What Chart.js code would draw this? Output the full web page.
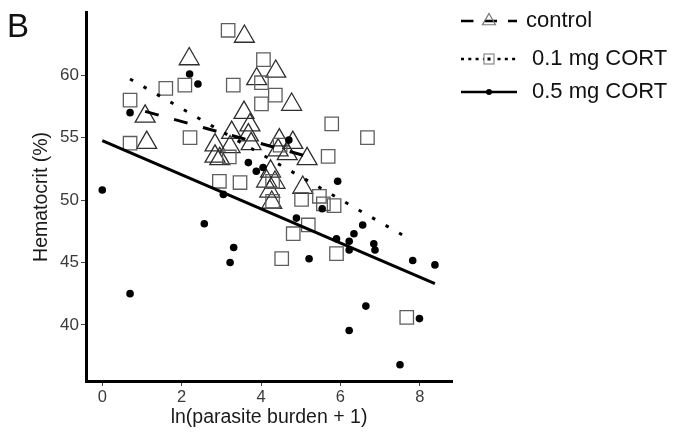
<!DOCTYPE html>
<html>
<head>
<meta charset="utf-8">
<script src="https://cdn.jsdelivr.net/npm/chart.js"></script>
<style>
  html, body { margin: 0; padding: 0; background: #fff; }
  #wrap { width: 684px; height: 435px; }
</style>
</head>
<body>
<div id="wrap"><canvas id="hct" width="684" height="435"></canvas></div>
<script>
// hematocrit against ln(parasite burden + 1), one group per treatment
var groupNames = ['control', '0.1 mg CORT', '0.5 mg CORT'];

var controlX = [1.08, 1.12, 2.19, 3.58, 3.89, 4.37, 4.77, 3.57, 3.72, 3.68, 3.75, 3.26, 2.84, 3.22,
                2.84, 2.96, 4.46, 4.80, 4.43, 4.66, 5.16, 4.24, 4.14, 4.35, 4.22, 4.27, 5.05];
var controlY = [56.7, 54.6, 61.3, 63.1, 59.7, 60.3, 57.65, 57.0, 56.0, 55.2, 54.5, 55.4, 54.4, 54.25,
                53.5, 53.3, 54.8, 54.6, 54.0, 53.7, 53.3, 52.3, 51.5, 51.4, 50.7, 49.8, 51.0];

var lowX = [0.70, 0.70, 1.60, 2.08, 2.21, 3.17, 3.30, 4.06, 4.01, 4.01, 4.36, 5.78, 5.69, 6.68, 2.95,
            3.47, 3.20, 4.48, 4.29, 4.29, 5.02, 5.47, 5.57, 5.84, 5.19, 4.81, 4.52, 5.90, 7.67];
var lowY = [58.0, 54.55, 58.95, 59.2, 55.0, 63.6, 59.2, 61.25, 59.4, 57.7, 58.4, 56.1, 53.5, 55.0, 51.5,
            51.4, 53.45, 54.4, 51.5, 49.9, 50.05, 50.3, 49.7, 49.55, 48.0, 47.3, 45.3, 45.7, 40.6];

var highX = [0.00, 0.70, 0.70, 2.20, 2.41, 2.57, 3.05, 3.31, 3.22, 3.68, 3.88, 4.05, 4.70, 4.89, 5.54,
             5.93, 5.90, 6.22, 6.22, 6.34, 6.56, 6.84, 6.87, 5.21, 7.82, 8.38, 6.64, 7.99, 6.22, 7.50];
var highY = [50.8, 42.5, 57.0, 60.1, 59.3, 48.1, 50.45, 46.2, 45.0, 53.0, 52.3, 52.6, 54.8, 48.55, 49.3,
             51.5, 46.9, 46.7, 46.0, 47.3, 48.0, 46.5, 46.0, 45.3, 45.15, 44.8, 41.5, 40.5, 39.55, 36.8];

// regression lines, end points
var controlFitX = [1.08, 5.16], controlFitY = [57.1, 53.5];
var lowFitX = [0.70, 7.67], lowFitY = [59.7, 47.0];
var highFitX = [0.00, 8.38], highFitY = [54.75, 43.3];

var xTicks = [0, 2, 4, 6, 8];
var yTicks = [40, 45, 50, 55, 60];

var FONT = '"Liberation Sans", Arial, Helvetica, sans-serif';

function pts(xs, ys) {
    return xs.map(function(x, i) { return {x: x, y: ys[i]}; });
}

function fitLine(xs, ys, dash) {
    return {
        data: pts(xs, ys),
        showLine: true,
        borderColor: '#000',
        borderWidth: 3,
        borderDash: dash,
        borderCapStyle: 'butt',
        pointRadius: 0,
        fill: false,
        order: 0
    };
}

// legend keys on the right plus the panel letter
var sideLegend = {
    id: 'sideLegend',
    afterDraw: function(chart) {
        var ctx = chart.ctx;
        ctx.save();
        ctx.fillStyle = '#111';
        ctx.font = '33px ' + FONT;
        ctx.textBaseline = 'alphabetic';
        ctx.fillText('B', 7, 37);

        var rows = [
            {y: 21, tx: 526, dash: [12.5, 11], mark: 'tri'},
            {y: 59, tx: 532, dash: [3, 4.3], mark: 'rect'},
            {y: 92, tx: 532, dash: [], mark: 'dot'}
        ];
        rows.forEach(function(r, i) {
            ctx.strokeStyle = '#000';
            ctx.lineWidth = 2.6;
            ctx.setLineDash(r.dash);
            ctx.beginPath();
            ctx.moveTo(461, r.y);
            ctx.lineTo(517, r.y);
            ctx.stroke();
            ctx.setLineDash([]);
            var cx = 489;
            if (r.mark === 'tri') {
                var rad = 7.5;
                ctx.strokeStyle = '#777';
                ctx.lineWidth = 1.2;
                ctx.beginPath();
                ctx.moveTo(cx, r.y - rad);
                ctx.lineTo(cx + rad * 0.866, r.y + rad / 2);
                ctx.lineTo(cx - rad * 0.866, r.y + rad / 2);
                ctx.closePath();
                ctx.stroke();
            } else if (r.mark === 'rect') {
                ctx.fillStyle = '#fff';
                ctx.fillRect(cx - 5, r.y - 5, 10, 10);
                ctx.strokeStyle = '#888';
                ctx.lineWidth = 1.2;
                ctx.strokeRect(cx - 5, r.y - 5, 10, 10);
                ctx.fillStyle = '#000';
                ctx.fillRect(cx - 1.5, r.y - 1.5, 3, 3);
            } else {
                ctx.fillStyle = '#000';
                ctx.beginPath();
                ctx.arc(cx, r.y, 3, 0, Math.PI * 2);
                ctx.fill();
            }
            ctx.fillStyle = '#111';
            ctx.font = '22px ' + FONT;
            ctx.textBaseline = 'middle';
            ctx.fillText(groupNames[i], r.tx, r.y);
        });
        ctx.restore();
    }
};

new Chart(document.getElementById('hct'), {
    type: 'scatter',
    data: {
        datasets: [
            fitLine(controlFitX, controlFitY, [14, 16]),
            fitLine(lowFitX, lowFitY, [3.5, 12]),
            fitLine(highFitX, highFitY, []),
            {
                label: groupNames[2],
                data: pts(highX, highY),
                pointStyle: 'circle',
                pointRadius: 3.8,
                pointBorderWidth: 0,
                pointBackgroundColor: '#000',
                pointBorderColor: '#000',
                order: 1
            },
            {
                label: groupNames[1],
                data: pts(lowX, lowY),
                pointStyle: 'rect',
                pointRadius: 9.5,
                pointBorderWidth: 1.3,
                pointBackgroundColor: 'rgba(0,0,0,0)',
                pointBorderColor: '#5e5e5e',
                order: 2
            },
            {
                label: groupNames[0],
                data: pts(controlX, controlY),
                pointStyle: 'triangle',
                pointRadius: 11.5,
                pointBorderWidth: 1.3,
                pointBackgroundColor: 'rgba(0,0,0,0)',
                pointBorderColor: '#2e2e2e',
                order: 3
            }
        ]
    },
    options: {
        responsive: false,
        animation: false,
        layout: { padding: { top: 5, right: 232, bottom: 0, left: 0 } },
        plugins: {
            legend: { display: false },
            tooltip: { enabled: false }
        },
        scales: {
            x: {
                type: 'linear',
                min: -0.41,
                max: 8.81,
                afterBuildTicks: function(axis) {
                    axis.ticks = xTicks.map(function(v) { return {value: v}; });
                },
                afterFit: function(axis) { axis.height = 54; },
                grid: { drawOnChartArea: false, drawTicks: true, tickLength: 5, tickColor: '#444', tickWidth: 1 },
                border: { display: true, color: '#000', width: 3 },
                ticks: { color: '#3a3a3a', font: { family: FONT, size: 16.5 }, padding: 2, maxRotation: 0 },
                title: {
                    display: true,
                    text: 'ln(parasite burden + 1)',
                    color: '#1a1a1a',
                    font: { family: FONT, size: 19.5 },
                    padding: { top: 0, bottom: 6 }
                }
            },
            y: {
                type: 'linear',
                min: 35.5,
                max: 65,
                afterBuildTicks: function(axis) {
                    axis.ticks = yTicks.map(function(v) { return {value: v}; });
                },
                afterFit: function(axis) { axis.width = 86; },
                grid: { drawOnChartArea: false, drawTicks: true, tickLength: 5, tickColor: '#444', tickWidth: 1 },
                border: { display: true, color: '#000', width: 3 },
                ticks: { color: '#3a3a3a', font: { family: FONT, size: 17 }, padding: 2 },
                title: {
                    display: true,
                    text: 'Hematocrit (%)',
                    color: '#1a1a1a',
                    font: { family: FONT, size: 19.5 },
                    padding: { top: 30, bottom: 0 }
                }
            }
        }
    },
    plugins: [sideLegend]
});
</script>
</body>
</html>
